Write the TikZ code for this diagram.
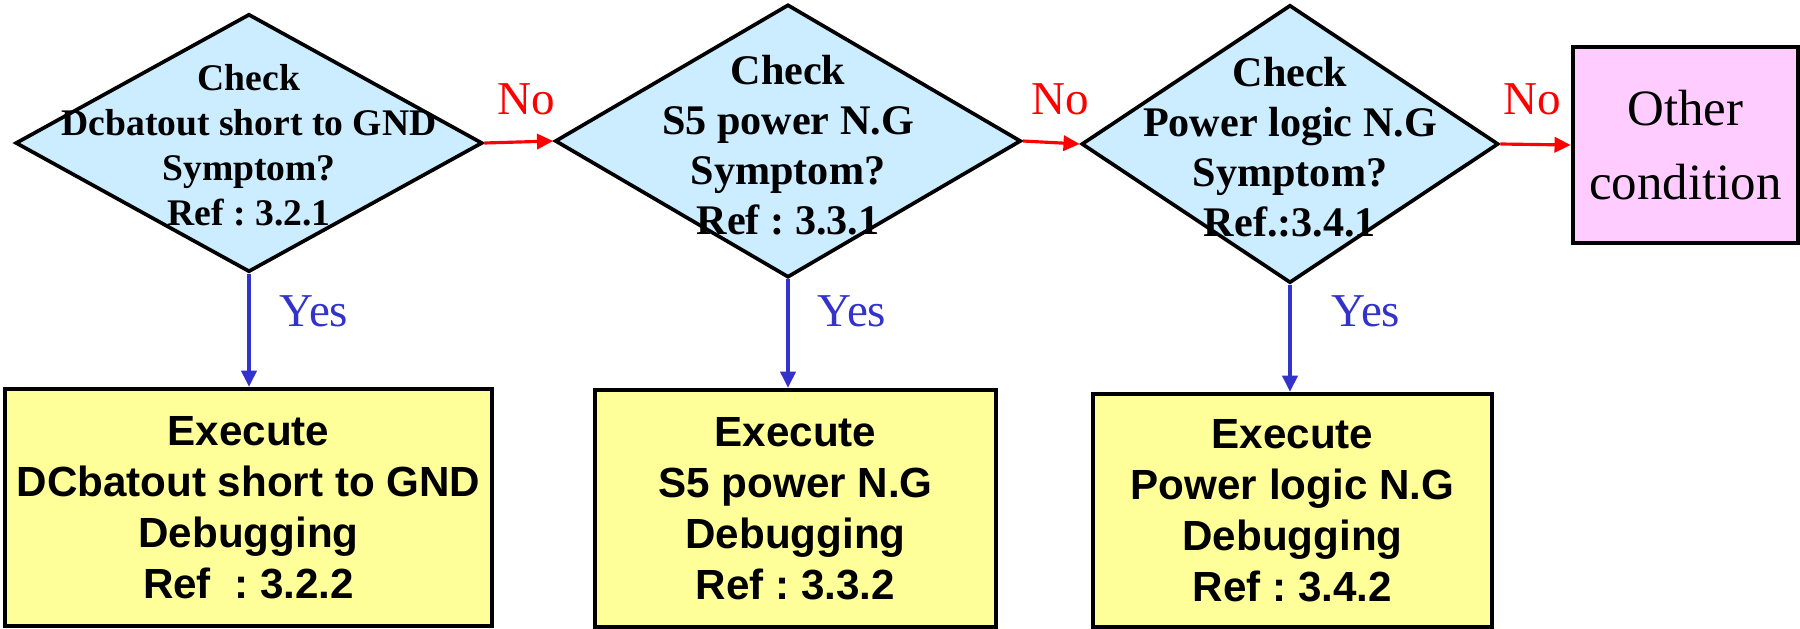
\documentclass[tikz,border=0pt]{standalone}
\usepackage{fontspec}
\setmainfont{Liberation Serif}
\newfontfamily\arialfont{Liberation Sans}
\usetikzlibrary{shapes,arrows.meta}
\frenchspacing
\definecolor{checkblue}{HTML}{CCECFF}
\definecolor{execyellow}{HTML}{FFFF99}
\definecolor{otherpink}{HTML}{FFCCFF}
\definecolor{yesblue}{HTML}{3333CC}
\tikzset{%
	check/.style		= {draw, line width = 1.05pt, diamond, fill = checkblue, inner sep = 0pt}, % Decision
	checktext/.style	= {align = center, font = \bfseries\fontsize{12}{14.2}\selectfont},
	execbox/.style		= {draw, line width = 1.2pt, rectangle, fill = execyellow, align = center, font = \arialfont\bfseries\fontsize{12}{14.5}\selectfont},
	otherbox/.style		= {draw, line width = 1.3pt, rectangle, fill = otherpink, align = center, font = \fontsize{14.5}{21.3}\selectfont},
	nolabel/.style		= {text = red, font = \fontsize{13.4}{16}\selectfont},
	yeslabel/.style		= {text = yesblue, font = \fontsize{13.4}{16}\selectfont},
	noline/.style		= {->, draw = red, line width = 0.9pt},
	yesline/.style		= {->, draw = yesblue, line width = 0.9pt}
}

\begin{document}
\begin{tikzpicture}[auto, >={Triangle[length = 4.6pt, width = 4.3pt]}]
	\useasboundingbox (0, 0) rectangle (18, 6.28);
	\draw % Drawing the checks
	node at (2.49, 4.85) [check, minimum width = 4.67cm, minimum height = 2.58cm] (chk1) {}
	node at (7.88, 4.87) [check, minimum width = 4.66cm, minimum height = 2.73cm] (chk2) {}
	node at (12.90, 4.84) [check, minimum width = 4.17cm, minimum height = 2.78cm] (chk3) {}
	node at (2.49, 4.83) [checktext, font = \bfseries\fontsize{10.7}{12.8}\selectfont] (chk1txt) {Check\\Dcbatout short to GND\\Symptom?\\Ref : 3.2.1}
	node at (7.88, 4.83) [checktext] (chk2txt) {Check\\S5 power N.G\\Symptom?\\Ref : 3.3.1}
	node at (12.90, 4.81) [checktext] (chk3txt) {Check\\Power logic N.G\\Symptom?\\Ref.:3.4.1}
	node at (16.855, 4.83) [otherbox, minimum width = 2.25cm, minimum height = 1.96cm] (other) {Other\\condition}
	;
	
	\draw % Drawing the debugging boxes
	node at (2.485, 1.205) [execbox, minimum width = 4.81cm, minimum height = 2.37cm] (exec1) {Execute\\DCbatout short to GND\\Debugging\\Ref\ \ : 3.2.2}
	node at (7.955, 1.195) [execbox, minimum width = 4.01cm, minimum height = 2.37cm] (exec2) {Execute\\S5 power N.G\\Debugging\\Ref : 3.3.2}
	node at (12.925, 1.175) [execbox, minimum width = 3.99cm, minimum height = 2.33cm] (exec3) {Execute\\Power logic N.G\\Debugging\\Ref : 3.4.2}
	;
	
	\draw % Drawing the labels
	node at (5.26, 5.29) [nolabel] (no1) {No}
	node at (10.60, 5.29) [nolabel] (no2) {No}
	node at (15.32, 5.29) [nolabel] (no3) {No}
	node at (3.14, 3.17) [yeslabel] (yes1) {Yes}
	node at (8.52, 3.17) [yeslabel] (yes2) {Yes}
	node at (13.66, 3.17) [yeslabel] (yes3) {Yes}
	;
	
	% Drawing the arrows
	\draw[noline] (chk1.east) -- (chk2.west);
	\draw[noline] (chk2.east) -- (chk3.west);
	\draw[noline] (chk3.east) -- (other.west);
	\draw[yesline] (chk1.south) -- (chk1.south |- exec1.north);
	\draw[yesline] (chk2.south) -- (chk2.south |- exec2.north);
	\draw[yesline] (chk3.south) -- (chk3.south |- exec3.north);
\end{tikzpicture}
\end{document}
